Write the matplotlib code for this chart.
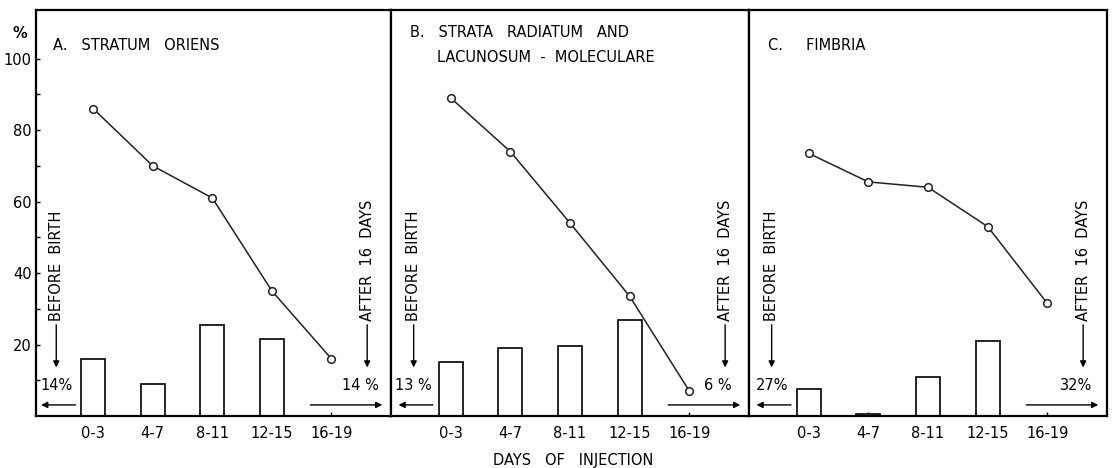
import matplotlib.pyplot as plt

# data
days = ['0-3', '4-7', '8-11', '12-15', '16-19']

line_a = [86, 70, 61, 35, 16]
bars_a = [16, 9, 25.5, 21.5]
line_b = [89, 74, 54, 33.5, 7]
bars_b = [15, 19, 19.5, 27]
line_c = [73.5, 65.5, 64, 53, 31.5]
bars_c = [7.5, 0.6, 11, 21]

before_pct = ['14%', '13 %', '27%']
after_pct = ['14 %', '6 %', '32%']
titles = ['A.   STRATUM   ORIENS',
          'B.   STRATA   RADIATUM   AND',
          'C.     FIMBRIA']
title_b2 = 'LACUNOSUM  -  MOLECULARE'

plt.rcParams['font.family'] = 'DejaVu Sans'

fig = plt.figure(figsize=(11.12, 4.68), dpi=100)
W, H = 1112, 468
edges = [36, 391, 749, 1107]
bottom, top = 416, 10

lines = [line_a, line_b, line_c]
bars = [bars_a, bars_b, bars_c]
x = list(range(len(days)))
fs = 10.5

for i in range(3):
    l, r = edges[i], edges[i + 1]
    ax = fig.add_axes([l / W, (H - bottom) / H, (r - l) / W, (bottom - top) / H])
    ax.set_xlim(-1.0 if i else -0.96, 5.0)
    ax.set_ylim(0, 113.6)

    ax.bar(x[:4], bars[i], width=0.4, facecolor='white', edgecolor='black',
           linewidth=1.2, zorder=2)
    ax.plot(x, lines[i], color='#222222', lw=1.1, marker='o', ms=5.5,
            mfc='white', mec='#222222', mew=1.1, zorder=3)

    for s in ax.spines.values():
        s.set_linewidth(1.6)

    ax.set_xticks(x)
    ax.set_xticklabels(days, fontsize=fs)
    ax.tick_params(axis='x', direction='in', length=3, width=1, pad=7)
    if i == 0:
        ax.set_yticks([20, 40, 60, 80, 100])
        ax.set_yticks([10, 30, 50, 70, 90], minor=True)
        ax.tick_params(axis='y', direction='in', length=3, width=1, labelsize=fs, pad=3)
        ax.tick_params(axis='y', which='minor', direction='in', length=3, width=1)
        ax.text(-0.045, 107, '%', transform=ax.get_yaxis_transform(),
                ha='center', va='center', fontsize=fs, fontweight='bold')
    else:
        ax.set_yticks([])

    # panel title
    if i == 1:
        ax.text(-0.68, 107.4, titles[i], ha='left', va='center', fontsize=fs)
        ax.text(-0.235, 100.4, title_b2, ha='left', va='center', fontsize=fs)
    else:
        ax.text(-0.68, 103.8, titles[i], ha='left', va='center', fontsize=fs)

    # before birth annotation
    bx = -0.62
    ax.text(bx, 26.5, 'BEFORE  BIRTH', rotation=90, ha='center', va='bottom', fontsize=fs)
    ax.annotate('', xy=(bx, 12.8), xytext=(bx, 26.3),
                arrowprops=dict(arrowstyle='-|>', color='black', lw=1, mutation_scale=9))
    ax.text(bx, 8.6, before_pct[i], ha='center', va='center', fontsize=fs)
    ax.annotate('', xy=(-0.92, 3.1), xytext=(-0.25, 3.1),
                arrowprops=dict(arrowstyle='-|>', color='black', lw=1, mutation_scale=9))

    # after 16 days annotation
    ax_ = 4.6
    ax.text(ax_, 26.5, 'AFTER  16  DAYS', rotation=90, ha='center', va='bottom', fontsize=fs)
    ax.annotate('', xy=(ax_, 12.8), xytext=(ax_, 26.3),
                arrowprops=dict(arrowstyle='-|>', color='black', lw=1, mutation_scale=9))
    ax.text(ax_ - 0.12, 8.6, after_pct[i], ha='center', va='center', fontsize=fs)
    ax.annotate('', xy=(4.9, 3.1), xytext=(3.6, 3.1),
                arrowprops=dict(arrowstyle='-|>', color='black', lw=1, mutation_scale=9))

fig.text(573 / W, 1 - 460 / H, 'DAYS   OF   INJECTION', ha='center', va='center', fontsize=fs)

fig.savefig('out.png', dpi=100)
